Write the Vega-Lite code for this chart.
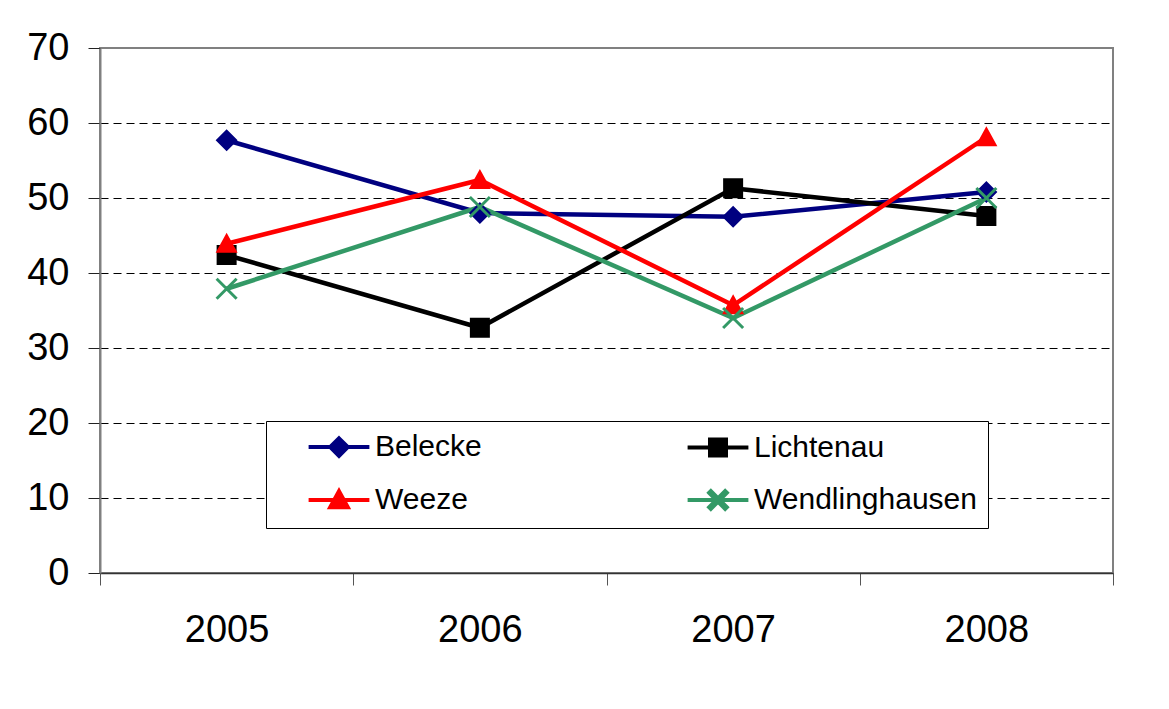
{
  "$schema": "https://vega.github.io/schema/vega-lite/v6.json",
  "width": 1013,
  "height": 525,
  "autosize": {"type": "none"},
  "padding": {"left": 100, "top": 48, "right": 56, "bottom": 136},
  "background": "white",
  "config": {
    "font": "Liberation Sans",
    "view": {"stroke": "#808080", "strokeWidth": 2},
    "legend": {
      "title": null,
      "orient": "none",
      "legendX": 166,
      "legendY": 373,
      "direction": "horizontal",
      "columns": 2,
      "columnPadding": 174,
      "rowPadding": 19,
      "padding": 11,
      "fillColor": "white",
      "strokeColor": "#000",
      "symbolSize": 256,
      "symbolStrokeWidth": 4,
      "symbolOffset": 47,
      "labelOffset": 21,
      "labelFontSize": 30,
      "labelColor": "#000",
      "labelLimit": 400
    }
  },
  "data": {
    "values": [
      {"year": 2005, "series": "Belecke", "value": 57.7},
      {"year": 2006, "series": "Belecke", "value": 48.0},
      {"year": 2007, "series": "Belecke", "value": 47.5},
      {"year": 2008, "series": "Belecke", "value": 50.8},
      {"year": 2005, "series": "Lichtenau", "value": 42.4},
      {"year": 2006, "series": "Lichtenau", "value": 32.7},
      {"year": 2007, "series": "Lichtenau", "value": 51.3},
      {"year": 2008, "series": "Lichtenau", "value": 47.6},
      {"year": 2005, "series": "Weeze", "value": 43.9},
      {"year": 2006, "series": "Weeze", "value": 52.4},
      {"year": 2007, "series": "Weeze", "value": 35.7},
      {"year": 2008, "series": "Weeze", "value": 58.1},
      {"year": 2005, "series": "Wendlinghausen", "value": 37.9},
      {"year": 2006, "series": "Wendlinghausen", "value": 48.8},
      {"year": 2007, "series": "Wendlinghausen", "value": 34.0},
      {"year": 2008, "series": "Wendlinghausen", "value": 50.0}
    ]
  },
  "encoding": {
    "x": {
      "field": "year",
      "type": "quantitative",
      "title": null,
      "scale": {"domain": [2004.5, 2008.5], "nice": false, "zero": false},
      "axis": {
        "values": [2004.5, 2005.5, 2006.5, 2007.5, 2008.5],
        "labelExpr": "datum.value < 2008 ? toString(datum.value + 0.5) : ''",
        "labelOffset": 126.6,
        "labelFlush": false,
        "labelOverlap": false,
        "labelFontSize": 38,
        "labelColor": "#000",
        "labelPadding": 26,
        "tickSize": 12,
        "tickColor": "#555",
        "tickWidth": 1,
        "domainColor": "#333",
        "domainWidth": 1.5,
        "grid": false
      }
    },
    "y": {
      "field": "value",
      "type": "quantitative",
      "title": null,
      "scale": {"domain": [0, 70], "nice": false},
      "axis": {
        "values": [0, 10, 20, 30, 40, 50, 60, 70],
        "labelFontSize": 38,
        "labelColor": "#000",
        "labelPadding": 19,
        "tickSize": 12,
        "tickColor": "#222",
        "tickWidth": 1,
        "domainColor": "#808080",
        "domainWidth": 2,
        "grid": true,
        "gridColor": "#000",
        "gridDash": [8, 5],
        "gridWidth": 1,
        "gridOpacity": {"condition": {"test": "datum.value === 0 || datum.value === 70", "value": 0}, "value": 1}
      }
    }
  },
  "layer": [
    {
      "mark": {"type": "line", "strokeWidth": 4.5},
      "encoding": {
        "stroke": {
          "field": "series",
          "type": "nominal",
          "scale": {
            "domain": ["Belecke", "Lichtenau", "Weeze", "Wendlinghausen"],
            "range": ["#000080", "#000000", "#FF0000", "#339966"]
          },
          "legend": {}
        }
      }
    },
    {
      "mark": {"type": "point", "filled": true, "opacity": 1, "size": 400},
      "encoding": {
        "color": {
          "field": "series",
          "type": "nominal",
          "scale": {
            "domain": ["Belecke", "Lichtenau", "Weeze", "Wendlinghausen"],
            "range": ["#000080", "#000000", "#FF0000", "#339966"]
          },
          "legend": {}
        },
        "shape": {
          "field": "series",
          "type": "nominal",
          "scale": {
            "domain": ["Belecke", "Lichtenau", "Weeze", "Wendlinghausen"],
            "range": [
              "M-3.8,0H3.8M0,-1.1L1.1,0L0,1.1L-1.1,0Z",
              "M-3.8,0H3.8M-1,-1H1V1H-1Z",
              "M-3.8,0H3.8M0,-1.1L1.1,0.9L-1.1,0.9Z",
              "M-3.8,0H3.8M-1.106,-0.894L0.894,1.106L1.106,0.894L-0.894,-1.106ZM-0.894,1.106L1.106,-0.894L0.894,-1.106L-1.106,0.894Z"
            ]
          },
          "legend": {}
        }
      }
    }
  ]
}
